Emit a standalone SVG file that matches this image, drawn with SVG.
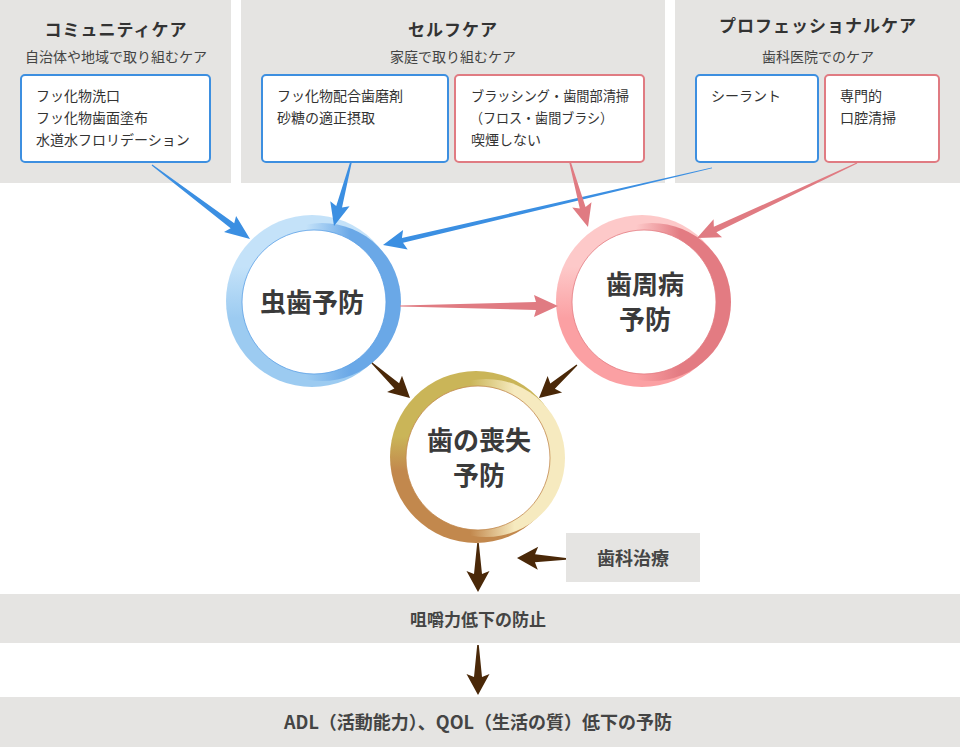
<svg xmlns="http://www.w3.org/2000/svg" width="960" height="747" viewBox="0 0 960 747">
<style>
text{font-family:"Noto Sans CJK JP","Noto Sans",sans-serif;fill:#333}
.panel{fill:#e5e4e2}
.title{font-size:17px;font-weight:bold;text-anchor:middle;letter-spacing:1px}
.sub{font-size:14px;text-anchor:middle;fill:#444}
.item{font-size:14px}
.bbox{fill:#fff;stroke:#3d8fe0;stroke-width:2}
.rbox{fill:#fff;stroke:#e07b82;stroke-width:2}
.ctext{font-size:26px;font-weight:bold;text-anchor:middle;fill:#3a3a3a}
.band{font-size:18px;font-weight:bold;text-anchor:middle;fill:#444}
.ab{fill:#3b8fe2}.ar{fill:#e07b82}.an{fill:#4a2808}
</style>
<defs>
<linearGradient id="b1" x1="0" y1="0" x2="0" y2="1"><stop offset="0.3" stop-color="#c4e2f9"/><stop offset="0.6" stop-color="#9ccbf1"/></linearGradient>
<linearGradient id="b2" x1="0" y1="0" x2="1" y2="0"><stop offset="0.4" stop-color="#6aa8e7" stop-opacity="0"/><stop offset="0.68" stop-color="#6aa8e7"/></linearGradient>
<linearGradient id="r1" x1="0" y1="0" x2="0" y2="1"><stop offset="0.3" stop-color="#fdc9c9"/><stop offset="0.6" stop-color="#fba0a3"/></linearGradient>
<linearGradient id="r2" x1="0" y1="0" x2="1" y2="0"><stop offset="0.4" stop-color="#e37b82" stop-opacity="0"/><stop offset="0.68" stop-color="#e37b82"/></linearGradient>
<linearGradient id="g1" x1="0" y1="0" x2="0" y2="1"><stop offset="0.38" stop-color="#cab558"/><stop offset="0.58" stop-color="#c2884d"/></linearGradient>
<linearGradient id="g2" x1="0" y1="0" x2="1" y2="0"><stop offset="0.4" stop-color="#f6eabf" stop-opacity="0"/><stop offset="0.68" stop-color="#f6eabf"/></linearGradient>
</defs>

<g id="community">
<rect class="panel" x="0" y="0" width="231" height="183"/>
<text class="title" x="116" y="36">コミュニティケア</text>
<text class="sub" x="116" y="62">自治体や地域で取り組むケア</text>
<rect class="bbox" x="21" y="75" width="189" height="87" rx="4"/>
<text class="item" x="36" y="101">フッ化物洗口</text>
<text class="item" x="36" y="123">フッ化物歯面塗布</text>
<text class="item" x="36" y="145">水道水フロリデーション</text>
</g>

<g id="selfcare">
<rect class="panel" x="241" y="0" width="424" height="183"/>
<text class="title" x="453" y="36">セルフケア</text>
<text class="sub" x="453" y="62">家庭で取り組むケア</text>
<rect class="bbox" x="262" y="75" width="186" height="87" rx="4"/>
<text class="item" x="277" y="101">フッ化物配合歯磨剤</text>
<text class="item" x="277" y="123">砂糖の適正摂取</text>
<rect class="rbox" x="455" y="75" width="189" height="87" rx="4"/>
<text class="item" x="471" y="101" textLength="158" lengthAdjust="spacingAndGlyphs">ブラッシング・歯間部清掃</text>
<text class="item" x="470" y="123" textLength="143" lengthAdjust="spacingAndGlyphs">（フロス・歯間ブラシ）</text>
<text class="item" x="471" y="145">喫煙しない</text>
</g>

<g id="professional">
<rect class="panel" x="675" y="0" width="285" height="183"/>
<text class="title" x="818" y="32">プロフェッショナルケア</text>
<text class="sub" x="818" y="62">歯科医院でのケア</text>
<rect class="bbox" x="696" y="75" width="122" height="87" rx="4"/>
<text class="item" x="711" y="101">シーラント</text>
<rect class="rbox" x="825" y="75" width="114" height="87" rx="4"/>
<text class="item" x="840" y="101">専門的</text>
<text class="item" x="840" y="123">口腔清掃</text>
</g>

<g id="caries">
<circle cx="312" cy="301" r="86" fill="url(#b1)"/>
<circle cx="322" cy="302" r="79" fill="url(#b2)"/>
<circle cx="314" cy="302" r="72" fill="#fff" stroke="#5a9fe6" stroke-width="0.8"/>
<text class="ctext" x="312" y="312">虫歯予防</text>
</g>

<g id="perio">
<circle cx="642" cy="301" r="86" fill="url(#r1)"/>
<circle cx="652" cy="302" r="79" fill="url(#r2)"/>
<circle cx="644" cy="302" r="72" fill="#fff" stroke="#e37b82" stroke-width="0.8"/>
<text class="ctext" x="645" y="294">歯周病</text>
<text class="ctext" x="645" y="329">予防</text>
</g>

<g id="toothloss">
<circle cx="476" cy="457" r="86" fill="url(#g1)"/>
<circle cx="486" cy="458" r="79" fill="url(#g2)"/>
<circle cx="478" cy="458" r="72" fill="#fff" stroke="#c2884d" stroke-width="0.8"/>
<text class="ctext" x="479" y="450">歯の喪失</text>
<text class="ctext" x="479" y="485">予防</text>
</g>

<g id="treatment">
<rect class="panel" x="566" y="533" width="134" height="49"/>
<text class="band" x="633" y="565">歯科治療</text>
</g>

<g id="mastication">
<rect class="panel" x="0" y="594" width="960" height="49"/>
<text class="band" x="478" y="626" style="font-size:17px">咀嚼力低下の防止</text>
</g>

<g id="adl">
<rect class="panel" x="0" y="697" width="960" height="50"/>
<text class="band" x="478" y="729">ADL（活動能力）、QOL（生活の質）低下の予防</text>
</g>

<g id="connectors">
<polygon class="ab" transform="translate(250,239) rotate(37.05)" points="-122.8,-0.6 -22,-3 -25,-10 0,0 -25,10 -22,3 -122.8,0.6"/>
<polygon class="ab" transform="translate(334,226) rotate(104.9)" points="-66.2,-0.8 -20,-3 -23,-10 0,0 -23,10 -20,3 -66.2,0.8"/>
<polygon class="ab" transform="translate(383,245) rotate(166.8)" points="-337.9,-0.4 -20,-2.5 -23,-10 0,0 -23,10 -20,2.5 -337.9,0.4"/>
<polygon class="ar" transform="translate(588,227) rotate(74.5)" points="-67.4,-0.8 -20,-3 -23,-10 0,0 -23,10 -20,3 -67.4,0.8"/>
<polygon class="ar" transform="translate(697,238) rotate(154.9)" points="-176.7,-0.5 -20,-3 -23,-10 0,0 -23,10 -20,3 -176.7,0.5"/>
<polygon class="ar" transform="translate(558,306) rotate(0)" points="-158,-0.5 -22,-4 -24,-11 0,0 -24,11 -22,4 -158,0.5"/>
<polygon class="an" transform="translate(410,398) rotate(42.6)" points="-51.7,-0.6 -18,-3.5 -21,-11 0,0 -21,11 -18,3.5 -51.7,0.6"/>
<polygon class="an" transform="translate(539,398) rotate(139)" points="-50.3,-0.6 -18,-3.5 -21,-11 0,0 -21,11 -18,3.5 -50.3,0.6"/>
<polygon class="an" transform="translate(478,592) rotate(90)" points="-49,-0.8 -18,-4 -21,-11.5 0,0 -21,11.5 -18,4 -49,0.8"/>
<polygon class="an" transform="translate(517,558) rotate(181)" points="-49,-0.8 -18,-4 -21,-11.5 0,0 -21,11.5 -18,4 -49,0.8"/>
<polygon class="an" transform="translate(478,695) rotate(90)" points="-50,-0.8 -18,-4 -21,-11.5 0,0 -21,11.5 -18,4 -50,0.8"/>
</g>
</svg>
